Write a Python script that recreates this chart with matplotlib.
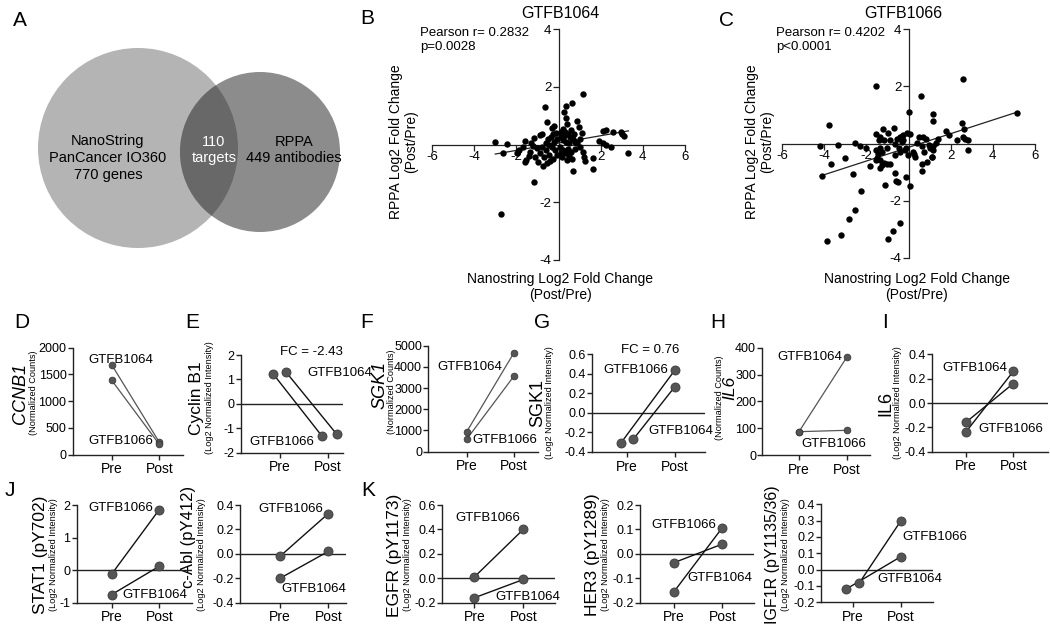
import numpy as np
import matplotlib
matplotlib.use('Agg')
import matplotlib.pyplot as plt
from matplotlib.patches import Circle
from matplotlib.ticker import FormatStrFormatter

plt.rcParams['font.family'] = ['Liberation Sans', 'DejaVu Sans']
plt.rcParams['axes.unicode_minus'] = False

# ---------------- data ----------------
venn_left_text = "NanoString\nPanCancer IO360\n770 genes"
venn_mid_text = "110\ntargets"
venn_right_text = "RPPA\n449 antibodies"

# Panel B (GTFB1064) Nanostring vs RPPA log2 fold change
b_x = [-3.0, -2.43, -2.62, -1.58, -1.14, -0.88, -0.76, -1.2, -1.0, -1.33, -1.4, -1.55, -1.6,
       -1.85, -1.95, -1.7, -0.9, -0.7, -0.74, -0.55, -0.39, -1.18, -2.75, -0.65, -0.54, -0.21,
       -0.30, -0.5, -0.35, -0.25, -0.1, -0.6, -0.45, -0.3, -0.15, -0.6, -0.8, -1.1, -0.95, -0.45,
       -0.2, -0.05, -0.25, -1.3, -0.05,
       1.15, 0.35, 0.62, 0.27, 0.35, 0.38, 0.88, 0.95, 1.1, 2.24, 2.12, 2.6, 2.95, 3.0, 3.1,
       1.9, 2.13, 2.26, 2.48, 3.32, 1.15, 1.22, 1.28, 1.66, 1.66, 0.70, 0.1, 0.2, 0.3, 0.45,
       0.55, 0.7, 0.8, 0.9, 0.1, 0.2, 0.35, 0.5, 0.05, 0.2, 0.35, 0.5, 0.6, 0.8, 1.0, 0.15,
       0.4, 0.65, 0.25, 0.6, 0.75, 1.0, 0.1, 0.45]
b_y = [0.07, 0.02, -0.30, 0.11, 0.21, 0.34, 0.35, -0.04, -0.12, -0.25, -0.4, -0.55, -0.62,
       -0.2, -0.3, -0.1, -0.3, -0.45, -0.73, -0.65, -0.56, -1.30, -2.40, 1.29, 0.78, 0.63,
       0.56, 0.2, 0.25, 0.35, 0.4, 0.05, 0.0, -0.1, -0.2, -0.2, -0.1, -0.45, -0.6, -0.35,
       0.1, -0.35, -0.5, 0.05, 0.2,
       1.76, 1.35, 1.45, 1.11, 0.92, 0.70, 0.83, 0.61, 0.40, 0.51, 0.46, 0.42, 0.43, 0.35, 0.29,
       0.13, 0.06, -0.01, -0.09, -0.31, -0.26, -0.43, -0.56, -0.48, -0.85, -0.92, 0.45, 0.55,
       0.45, 0.35, 0.25, 0.2, 0.1, 0.05, 0.25, 0.15, 0.1, 0.05, -0.1, -0.2, -0.3, -0.4, -0.25,
       -0.15, -0.1, -0.45, -0.55, -0.5, 0.3, 0.5, 0.35, 0.2, -0.3, -0.15]
b_fit = (0.127, 0.05)          # slope, intercept
b_title = "GTFB1064"
b_stats = "Pearson r= 0.2832\np=0.0028"

# Panel C (GTFB1066)
c_x = [2.57, -1.52, 0.57, 5.13, 0.0, 1.17, 1.15, -3.78, 2.54, 2.61, 1.79, 1.93, 2.29, 2.6,
       2.7, 2.8, 2.81, -4.19, -3.33, -2.56, -2.29, -2.0, -2.99, -3.67, -4.08, -2.64, -1.82,
       -2.24, -2.53, -2.84, -3.18, -3.87, -0.98, -0.74, -0.39, -1.12, -0.63, -0.6, -0.52,
       -0.14, 0.06, 0.62, 0.62, 0.87, 1.12, 0.24, 0.32,
       -1.53, -1.34, -1.23, -0.95, -0.68, -1.41, -1.18, -0.87, -0.55, -0.39, -0.24, -0.08,
       0.08, -0.32, -0.63, -0.47, -1.0, -1.34, -1.53, -1.45, -1.26, -1.5, -1.34, -1.18, -1.03,
       -0.87, -1.34, -1.55, -0.63, -0.39, -0.16, -0.03, -0.35, -0.24, -0.13, 0.52, 0.68, 0.81,
       0.63, 0.39, 0.95, 1.03, 1.18, 1.31, 1.42, 1.14, 0.74, 0.21, 1.11, -1.26]
c_y = [2.24, 2.02, 1.65, 1.08, 1.09, 1.02, 0.80, 0.63, 0.72, 0.51, 0.43, 0.29, 0.12, 0.21,
       0.15, 0.12, -0.21, -0.10, -0.05, 0.03, -0.09, -0.15, -0.52, -0.72, -1.12, -1.07, -0.79,
       -1.67, -2.33, -2.64, -3.19, -3.41, -3.34, -3.06, -2.79, -1.44, -1.02, -1.30, -1.35,
       -1.16, -1.49, -0.97, -0.70, -0.64, -0.47, -0.37, -0.47,
       0.33, 0.23, 0.50, 0.37, 0.53, 0.12, 0.12, 0.12, 0.15, 0.21, 0.29, 0.35,
       0.33, 0.06, 0.0, -0.14, -0.14, -0.17, -0.21, -0.35, -0.29, -0.52, -0.58, -0.67, -0.70,
       -0.70, -0.87, -0.58, -0.41, -0.29, -0.23, -0.40, 0.23, 0.12, -0.14, 0.21, 0.23, 0.15,
       -0.09, 0.02, -0.06, -0.17, -0.09, 0.02, 0.16, -0.23, -0.29, -0.29, -0.47, -0.76]
c_fit = (0.239, -0.135)
c_title = "GTFB1066"
c_stats = "Pearson r= 0.4202\np<0.0001"

timepoints = ["Pre", "Post"]

# Pre / Post values per sample
ccnb1_1064 = [1680, 230]
ccnb1_1066 = [1390, 190]
cyclinb1_1064 = [1.29, -1.24]
cyclinb1_1066 = [1.22, -1.31]
sgk1_counts_1064 = [940, 4670]
sgk1_counts_1066 = [590, 3570]
sgk1_rppa_1066 = [-0.31, 0.44]
sgk1_rppa_1064 = [-0.27, 0.27]
il6_counts_1064 = [87, 364]
il6_counts_1066 = [87, 92]
il6_rppa_1064 = [-0.24, 0.26]
il6_rppa_1066 = [-0.16, 0.16]
stat1_1066 = [-0.12, 1.86]
stat1_1064 = [-0.75, 0.12]
cabl_1066 = [-0.02, 0.33]
cabl_1064 = [-0.20, 0.02]
egfr_1066 = [0.01, 0.40]
egfr_1064 = [-0.16, -0.01]
her3_1066 = [-0.155, 0.107]
her3_1064 = [-0.036, 0.04]
igf1r_1066 = [-0.08, 0.30]
igf1r_1064 = [-0.12, 0.08]

fc_cyclinb1 = "FC = -2.43"
fc_sgk1 = "FC = 0.76"

# ---------------- figure ----------------
W, H = 1050, 631
fig = plt.figure(figsize=(10.5, 6.31), dpi=100)

ov = fig.add_axes([0, 0, 1, 1])
ov.set_xlim(0, W)
ov.set_ylim(H, 0)
ov.axis('off')


def px_axes(l, r, t, b):
    ax = fig.add_axes([l / W, 1 - b / H, (r - l) / W, (b - t) / H])
    ax.patch.set_alpha(0)
    return ax


# Venn diagram (panel A)
left_c = Circle((138, 148), 100, facecolor='#b4b4b4', edgecolor='none', zorder=1)
right_c = Circle((260, 152), 80, facecolor='#8c8c8c', edgecolor='none', zorder=2)
mid_c = Circle((260, 152), 80, facecolor='#686868', edgecolor='none', zorder=3)
ov.add_patch(left_c)
ov.add_patch(right_c)
ov.add_patch(mid_c)
mid_c.set_clip_path(left_c)
ov.text(108, 158, venn_left_text, ha='center', va='center', fontsize=10.5,
        linespacing=1.25, zorder=5)
ov.text(214, 150, venn_mid_text, ha='center', va='center', fontsize=10.5,
        color='white', linespacing=1.25, zorder=5)
ov.text(294, 150, venn_right_text, ha='center', va='center', fontsize=10.5,
        linespacing=1.25, zorder=5)

# panel letters
for letter, x, y in [("A", 20, 20), ("B", 367, 18), ("C", 727, 20), ("D", 22, 322),
                     ("E", 192, 322), ("F", 367, 322), ("G", 542, 322), ("H", 718, 322),
                     ("I", 885, 322), ("J", 10, 490), ("K", 368, 490)]:
    ov.text(x, y, letter, ha='center', va='center', fontsize=15)


def scatter_panel(rect, xs, ys, fit, title, stats, title_x, stats_x, ylab_x, xlab_x):
    ax = px_axes(*rect)
    ax.scatter(xs, ys, s=21, color='black', linewidths=0, zorder=3)
    xx = np.array([min(xs), max(xs)])
    ax.plot(xx, fit[1] + fit[0] * xx, color='#222222', lw=0.9, zorder=2)
    ax.set_xlim(-6, 6)
    ax.set_ylim(-4, 4)
    for s in ['top', 'right']:
        ax.spines[s].set_visible(False)
    for s in ['left', 'bottom']:
        ax.spines[s].set_position(('data', 0))
        ax.spines[s].set_linewidth(0.9)
        ax.spines[s].set_color('#222222')
    ax.set_xticks([-6, -4, -2, 2, 4, 6])
    ax.set_yticks([-4, -2, 2, 4])
    ax.tick_params(direction='out', length=4, width=0.9, labelsize=9.5, pad=1,
                   color='#222222')
    ov.text(title_x, 13, title, ha='center', va='center', fontsize=11.5)
    ov.text(stats_x, 40, stats, ha='left', va='center', fontsize=9.5, linespacing=1.15)
    ov.text(ylab_x, 142, "RPPA Log2 Fold Change\n(Post/Pre)", rotation=90, ha='center',
            va='center', fontsize=10, linespacing=1.1)
    ov.text(xlab_x, 287, "Nanostring Log2 Fold Change\n(Post/Pre)", ha='center',
            va='center', fontsize=10, linespacing=1.2)
    return ax


scatter_panel((432, 685, 29, 260), b_x, b_y, b_fit, b_title, b_stats, 560, 420, 404, 560)
scatter_panel((782, 1035, 29, 258), c_x, c_y, c_fit, c_title, c_stats, 903, 776, 760, 917)


def pair_panel(rect, pre_px, post_px, ylim, yticks, fmt, series, zero_line, heavy,
               labels, ylab, fc=None):
    l, r, t, b = rect
    ax = px_axes(l, r, t, b)
    u = post_px - pre_px
    ax.set_xlim(1 - (pre_px - l) / u, 2 + (r - post_px) / u)
    ax.set_ylim(*ylim)
    for s in ['top', 'right']:
        ax.spines[s].set_visible(False)
    for s in ['left', 'bottom']:
        ax.spines[s].set_linewidth(1.0)
        ax.spines[s].set_color('#222222')
    ax.set_xticks([1, 2])
    ax.set_xticklabels(timepoints, fontsize=10)
    ax.set_yticks(yticks)
    ax.yaxis.set_major_formatter(FormatStrFormatter(fmt))
    ax.tick_params(axis='y', labelsize=9, length=3.5, width=1.0, pad=1, color='#222222')
    ax.tick_params(axis='x', length=3.5, width=1.0, pad=2, color='#222222')
    if zero_line:
        ax.axhline(0, color='#222222', lw=1.0, zorder=1)
    if heavy:
        lc, lw, ms = '#111111', 1.0, 6.5
    else:
        lc, lw, ms = '#555555', 0.9, 4.8
    for vals, dx in series:
        ax.plot([1 + dx[0], 2 + dx[1]], vals, color=lc, lw=lw, zorder=2, clip_on=False)
        ax.plot([1 + dx[0], 2 + dx[1]], vals, 'o', ms=ms, color='#555555',
                mec='#3a3a3a', mew=0.6, zorder=3, clip_on=False)
    for txt, x, y in labels:
        ax.text(x, y, txt, ha='left', va='center', fontsize=9.5, zorder=4)
    if fc is not None:
        ax.text(fc[1], fc[2], fc[0], ha='center', va='center', fontsize=9.5)
    big, bx, small, sx, cy, bsize, ital, scy = ylab
    ov.text(bx, cy, big, rotation=90, ha='center', va='center', fontsize=bsize,
            style='italic' if ital else 'normal')
    ov.text(sx, scy, small, rotation=90, ha='center', va='center', fontsize=6.6)
    return ax


nz = [0, 0]
NC = "(Normalized Counts)"
LI = "(Log2 Normalized Intensity)"

# D
pair_panel((72.7, 183, 347.7, 454.5), 111.7, 159.3, (0, 2000), [0, 500, 1000, 1500, 2000],
           '%d', [(ccnb1_1064, nz), (ccnb1_1066, nz)], False, False,
           [("GTFB1064", 0.5, 1770), ("GTFB1066", 0.5, 253)],
           ("CCNB1", 20, NC, 33, 393, 13, True, 393))
# E
pair_panel((240.7, 343, 355, 452.7), 280, 328, (-2, 2), [-2, -1, 0, 1, 2], '%d',
           [(cyclinb1_1066, [-0.14, -0.13]), (cyclinb1_1064, [0.13, 0.18])], True, True,
           [("GTFB1064", 1.56, 1.25), ("GTFB1066", 0.36, -1.55)],
           ("Cyclin B1", 197, LI, 209, 398, 12.5, False, 398),
           fc=(fc_cyclinb1, 1.66, 2.13))
# F
pair_panel((428.3, 538, 345.7, 451.7), 466.7, 514, (0, 5000),
           [0, 1000, 2000, 3000, 4000, 5000], '%d',
           [(sgk1_counts_1064, nz), (sgk1_counts_1066, nz)], False, False,
           [("GTFB1064", 0.39, 4010), ("GTFB1066", 1.13, 550)],
           ("SGK1", 380, NC, 392, 385, 13, True, 392))
# G
pair_panel((591.7, 705, 354.3, 452), 627, 675, (-0.4, 0.6),
           [-0.4, -0.2, 0.0, 0.2, 0.4, 0.6], '%.1f',
           [(sgk1_rppa_1066, [-0.13, 0]), (sgk1_rppa_1064, [0.13, 0])], True, True,
           [("GTFB1066", 0.51, 0.44), ("GTFB1064", 1.44, -0.19)],
           ("SGK1", 538, LI, 550, 403, 13, False, 403), fc=(fc_sgk1, 1.48, 0.64))
# H
pair_panel((762.3, 870, 347.7, 455), 799, 846.7, (0, 400), [0, 100, 200, 300, 400], '%d',
           [(il6_counts_1064, nz), (il6_counts_1066, nz)], False, False,
           [("GTFB1064", 0.54, 365), ("GTFB1066", 1.06, 41)],
           ("IL6", 730, NC, 719, 388, 12.5, True, 398))
# I
pair_panel((931.7, 1048, 354.3, 451.7), 965.7, 1013.3, (-0.4, 0.4),
           [-0.4, -0.2, 0.0, 0.2, 0.4], '%.1f',
           [(il6_rppa_1064, nz), (il6_rppa_1066, nz)], True, True,
           [("GTFB1064", 0.5, 0.29), ("GTFB1066", 1.26, -0.21)],
           ("IL6", 886, LI, 898, 403, 13, False, 403))
# J - STAT1
pair_panel((76.7, 192, 505, 602.7), 111.7, 159.3, (-1, 2), [-1, 0, 1, 2], '%d',
           [(stat1_1066, nz), (stat1_1064, nz)], True, True,
           [("GTFB1066", 0.5, 1.92), ("GTFB1064", 1.22, -0.75)],
           ("STAT1 (pY702)", 40, LI, 53, 555, 12.5, False, 555))
# J - c-Abl
pair_panel((240, 346, 505, 602.7), 280, 328.3, (-0.4, 0.4), [-0.4, -0.2, 0.0, 0.2, 0.4],
           '%.1f', [(cabl_1066, nz), (cabl_1064, nz)], True, True,
           [("GTFB1066", 0.55, 0.37), ("GTFB1064", 1.03, -0.29)],
           ("c-Abl (pY412)", 189, LI, 201, 537, 12, False, 555))
# K - EGFR
pair_panel((441.7, 555, 505, 602.7), 474.3, 523.3, (-0.2, 0.6),
           [-0.2, 0.0, 0.2, 0.4, 0.6], '%.1f', [(egfr_1066, nz), (egfr_1064, nz)], True, True,
           [("GTFB1066", 0.61, 0.49), ("GTFB1064", 1.42, -0.15)],
           ("EGFR (pY1173)", 395, LI, 408, 555, 12.5, False, 555))
# K - HER3
pair_panel((640, 754, 505, 602.7), 674, 722.3, (-0.2, 0.2),
           [-0.2, -0.1, 0.0, 0.1, 0.2], '%.1f', [(her3_1066, nz), (her3_1064, nz)], True, True,
           [("GTFB1066", 0.54, 0.12), ("GTFB1064", 1.27, -0.1)],
           ("HER3 (pY1289)", 592, LI, 605, 555, 12.5, False, 555))
# K - IGF1R
pair_panel((821, 933.3, 504.3, 602.3), 852.7, 901, (-0.2, 0.4),
           [-0.2, -0.1, 0.0, 0.1, 0.2, 0.3, 0.4], '%.1f',
           [(igf1r_1066, [0.14, 0]), (igf1r_1064, [-0.14, 0])], True, True,
           [("GTFB1066", 2.02, 0.2), ("GTFB1064", 1.52, -0.055)],
           ("IGF1R (pY1135/36)", 773, LI, 785, 555, 11.5, False, 555))

fig.savefig("out.png", dpi=100)
